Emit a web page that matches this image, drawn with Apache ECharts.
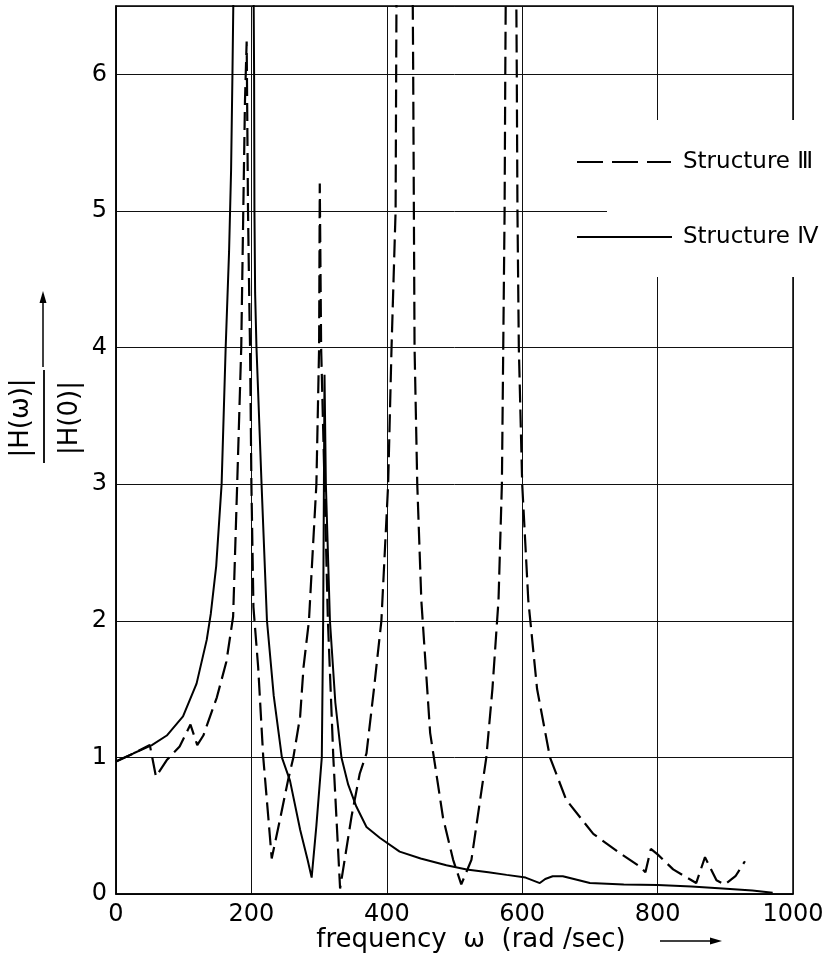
<!DOCTYPE html>
<html>
<head>
<meta charset="utf-8">
<script src="https://cdn.jsdelivr.net/npm/echarts@6/dist/echarts.min.js"></script>
<style>html,body{margin:0;padding:0;background:#fff;}#c{width:836px;height:962px;}</style>
</head>
<body>
<div id="c"></div>
<script>
// Structure IV (solid)
const freqIV = [0,26,53,75,99,119,134,140,148,156,162,167,170,172,174,188,203,204,204.5,205.5,207.5,215,223,233,245,257,272,283,289,296,304,306,308,310,316,324,333,343,355,370,390,419,450,488,518,550,577,605,626,634,645,660,700,750,800,850,896,940,970];
const magIV  = [0.97,1.03,1.09,1.16,1.30,1.54,1.86,2.05,2.4,3.0,4.0,4.7,5.3,6.0,6.8,12,6.8,6.0,5.0,4.4,4.0,3.0,2.0,1.45,1.0,0.83,0.47,0.25,0.12,0.5,1.0,2.0,3.8,3.0,2.0,1.4,1.0,0.8,0.64,0.49,0.41,0.31,0.26,0.21,0.18,0.16,0.14,0.12,0.08,0.11,0.13,0.13,0.08,0.07,0.066,0.055,0.04,0.025,0.01];
// Structure III (dashed)
const freqIII = [0,26,50,59,75,94,110,120,129,149,163,173,179,185,188,190.5,193,195,197,198,200,203,210,217.5,225,230,242,254,262,272,277,285,296,300,301,303,308,313,321,331,348,360,370,381,392,402,407,410,413,414.5,426,438,439,440,441,445,451,464,483,498,510,525,547,556,565,570,572,574,575,576,583,591,592,593,595,600,609,622,641,665,705,744,774,782,790,800,823,857,870,887,899,915,929];
const magIII  = [0.97,1.03,1.09,0.86,0.98,1.08,1.24,1.09,1.16,1.44,1.7,2.03,3.0,4.0,5.0,5.8,6.24,5.0,4.3,4.0,3.0,2.1,1.66,1.0,0.56,0.26,0.54,0.83,1.0,1.3,1.66,2.0,3.0,4.0,5.2,4.0,3.0,2.0,1.0,0.04,0.57,0.88,1.03,1.5,2.0,3.0,4.0,4.5,5.0,6.8,12,6.8,6.0,5.0,4.0,3.0,2.15,1.18,0.56,0.25,0.07,0.25,1.0,1.5,2.15,3.0,4.0,5.0,6.0,6.8,12,6.8,6.0,5.0,4.0,3.0,2.15,1.5,1.0,0.69,0.44,0.30,0.20,0.16,0.33,0.29,0.18,0.08,0.27,0.10,0.07,0.13,0.24];
const seriesNames = ['Structure Ⅲ', 'Structure Ⅳ'];
const xTitle = 'frequency  ω  (rad /sec)';
const yNumer = '|H(ω)|';
const yDenom = '|H(0)|';

const FONT = 'DejaVu Sans';
const DASH = [18, 7];
const pairs = (xs, ys) => xs.map((x, i) => [x, ys[i]]);

const chart = echarts.init(document.getElementById('c'), null, {renderer: 'canvas'});
chart.setOption({
  animation: false,
  backgroundColor: '#fff',
  grid: {left: 116, right: 43, top: 6, bottom: 68, show: true, borderColor: '#000', borderWidth: 1.5, backgroundColor: 'transparent'},
  xAxis: {
    type: 'value', min: 0, max: 1000, interval: 200,
    axisLine: {show: true, lineStyle: {color: '#000', width: 1.5}},
    axisTick: {show: false},
    axisLabel: {color: '#000', fontFamily: FONT, fontSize: 24, margin: 9, formatter: v => String(v)},
    splitLine: {show: true, lineStyle: {color: '#111', width: 1}}
  },
  yAxis: {
    type: 'value', min: 0, max: 6.5, interval: 1,
    axisLine: {show: true, lineStyle: {color: '#000', width: 1.5}},
    axisTick: {show: false},
    axisLabel: {color: '#000', fontFamily: FONT, fontSize: 24, margin: 9,
      formatter: v => Number.isInteger(v) ? String(v) : ''},
    splitLine: {show: true, lineStyle: {color: '#111', width: 1}}
  },
  graphic: [
    // legend area (covers grid lines behind the key, as in the original)
    {type: 'rect', z: 3, shape: {x: 607, y: 120, width: 229, height: 157}, style: {fill: '#fff'}},
    {type: 'line', z: 5, shape: {x1: 577, y1: 162, x2: 671, y2: 162}, style: {stroke: '#000', lineWidth: 2, lineDash: [26, 9]}},
    {type: 'text', z: 5, x: 683, y: 162, style: {text: seriesNames[0], font: '23px "DejaVu Sans"', fill: '#000', textAlign: 'left', textVerticalAlign: 'middle'}},
    {type: 'line', z: 5, shape: {x1: 577, y1: 237, x2: 672, y2: 237}, style: {stroke: '#000', lineWidth: 2}},
    {type: 'text', z: 5, x: 683, y: 237, style: {text: seriesNames[1], font: '23px "DejaVu Sans"', fill: '#000', textAlign: 'left', textVerticalAlign: 'middle'}},
    // x-axis title and arrow
    {type: 'text', z: 5, x: 471, y: 940, style: {text: xTitle, font: '26px "DejaVu Sans"', fill: '#000', textAlign: 'center', textVerticalAlign: 'middle'}},
    {type: 'line', z: 5, shape: {x1: 660, y1: 941, x2: 714, y2: 941}, style: {stroke: '#000', lineWidth: 1.5}},
    {type: 'polygon', z: 5, shape: {points: [[722, 941], [710, 937.5], [710, 944.5]]}, style: {fill: '#000'}},
    // y-axis title (fraction) and arrow
    {type: 'text', z: 5, x: 21, y: 418, rotation: Math.PI / 2, style: {text: yNumer, font: '26px "DejaVu Sans"', fill: '#000', textAlign: 'center', textVerticalAlign: 'middle'}},
    {type: 'text', z: 5, x: 70, y: 418, rotation: Math.PI / 2, style: {text: yDenom, font: '26px "DejaVu Sans"', fill: '#000', textAlign: 'center', textVerticalAlign: 'middle'}},
    {type: 'line', z: 5, shape: {x1: 44, y1: 370, x2: 44, y2: 463}, style: {stroke: '#000', lineWidth: 1.8}},
    {type: 'line', z: 5, shape: {x1: 43, y1: 367, x2: 43, y2: 300}, style: {stroke: '#000', lineWidth: 1.5}},
    {type: 'polygon', z: 5, shape: {points: [[43, 291], [39.5, 303], [46.5, 303]]}, style: {fill: '#000'}}
  ],
  series: [
    {
      name: seriesNames[0], type: 'line', data: pairs(freqIII, magIII),
      symbol: 'none', clip: true, smooth: false,
      lineStyle: {color: '#000', width: 2.2, type: DASH},
      itemStyle: {color: '#000'}
    },
    {
      name: seriesNames[1], type: 'line', data: pairs(freqIV, magIV),
      symbol: 'none', clip: true, smooth: false,
      lineStyle: {color: '#000', width: 2, type: 'solid'},
      itemStyle: {color: '#000'}
    }
  ]
});
</script>
</body>
</html>
